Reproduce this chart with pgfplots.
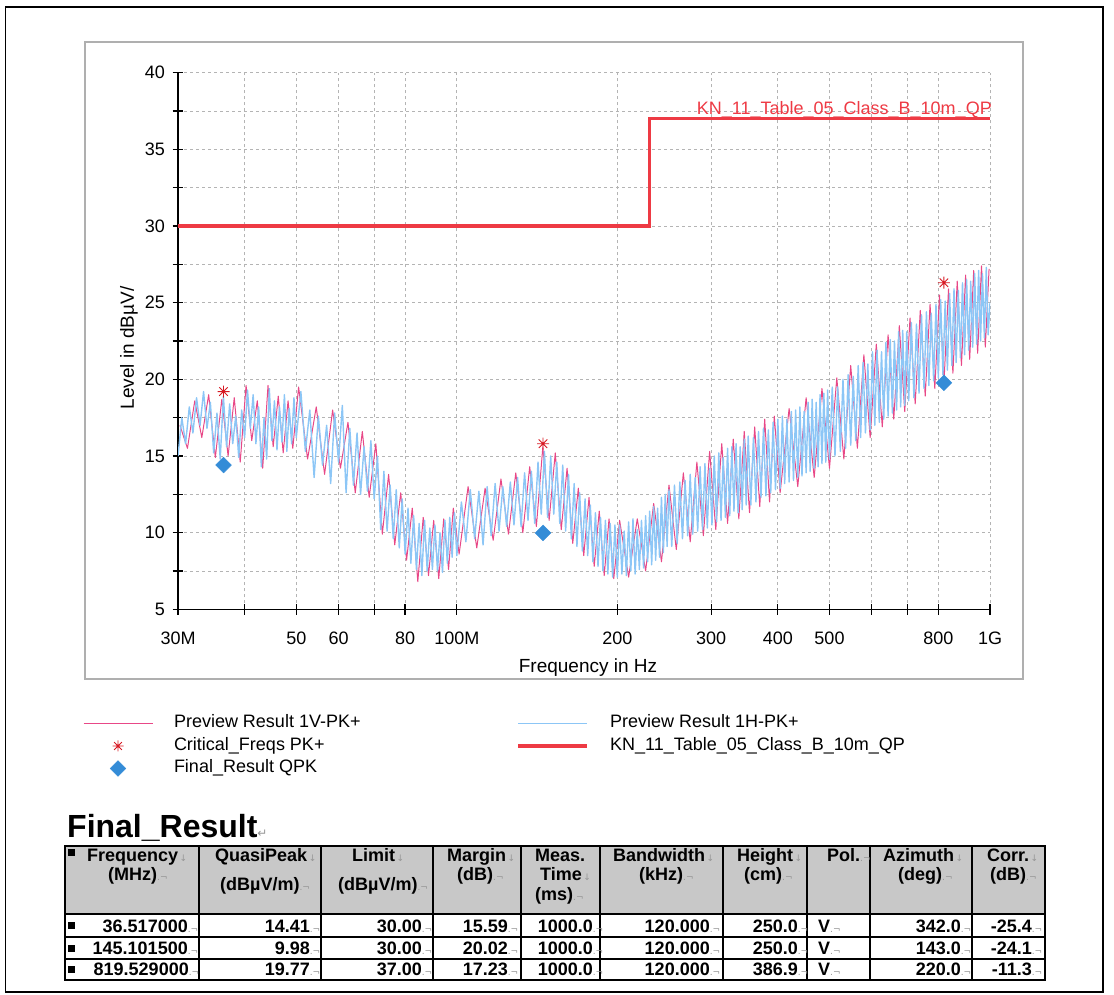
\documentclass[border=0pt]{standalone}
\usepackage{fontspec}
\setmainfont{Liberation Sans}
\newfontfamily\dejavu{DejaVu Sans}
\usepackage{pgfplots}
\pgfplotsset{compat=1.18}
\definecolor{pinkc}{RGB}{232,72,135}
\definecolor{bluec}{RGB}{140,198,246}
\definecolor{limitc}{RGB}{238,58,68}
\definecolor{starc}{RGB}{215,25,35}
\definecolor{diamc}{RGB}{52,140,215}
\definecolor{gridc}{RGB}{180,180,180}
\definecolor{framec}{RGB}{175,175,175}
\definecolor{hdrc}{RGB}{200,200,200}
\definecolor{markc}{RGB}{150,150,150}
\pgfdeclareplotmark{ast8}{%
 \pgfpathmoveto{\pgfqpoint{0pt}{\pgfplotmarksize}}\pgfpathlineto{\pgfqpoint{0pt}{-\pgfplotmarksize}}%
 \pgfpathmoveto{\pgfqpoint{\pgfplotmarksize}{0pt}}\pgfpathlineto{\pgfqpoint{-\pgfplotmarksize}{0pt}}%
 \pgfpathmoveto{\pgfqpoint{0.707\pgfplotmarksize}{0.707\pgfplotmarksize}}\pgfpathlineto{\pgfqpoint{-0.707\pgfplotmarksize}{-0.707\pgfplotmarksize}}%
 \pgfpathmoveto{\pgfqpoint{-0.707\pgfplotmarksize}{0.707\pgfplotmarksize}}\pgfpathlineto{\pgfqpoint{0.707\pgfplotmarksize}{-0.707\pgfplotmarksize}}%
 \pgfusepathqstroke}
\newcommand\hf{\bfseries\fontsize{18}{18}\selectfont}
\newcommand\dn{{\dejavu\mdseries\fontsize{9}{9}\selectfont\color{markc}\,↓}}
\newcommand\ce{{\dejavu\mdseries\fontsize{9}{9}\selectfont\color{markc}.¬}}
\newcommand\hd[3]{\node[anchor=base west,inner sep=0pt,font=\hf] at (#1pt,#2pt) {#3};}
\newcommand\vl[3]{\node[anchor=base east,inner sep=0pt,font=\hf] at (#1pt,#2pt) {#3\rlap{\ce}};}
\newcommand\bul[1]{\fill[black] (67.5pt,#1pt-3.5pt) rectangle (74.5pt,#1pt+3.5pt);}
\begin{document}
\begin{tikzpicture}
\path[use as bounding box] (0pt,0pt) rectangle (1114pt,994pt);
\draw[black,line width=1.5pt] (5.5pt,987pt) rectangle (1103pt,2pt);
\draw[framec,line width=1.5pt] (85pt,952pt) rectangle (1023pt,315pt);
\begin{axis}[
  at={(178pt,384.7pt)}, anchor=south west,
  scale only axis, width=812pt, height=536.6pt,
  xmode=log, xmin=30, xmax=1000, ymin=5, ymax=40,
  enlargelimits=false,
  axis x line=bottom, axis y line=left,
  axis line style={-, line width=1.3pt, black},
  xtick={30,50,60,80,100,200,300,400,500,800,1000},
  xticklabels={30M,50,60,80,100M,200,300,400,500,800,1G},
  minor xtick={40,70,600,700},
  ytick={5,10,15,20,25,30,35,40},
  yticklabels={5,10,15,20,25,30,35,40},
  minor ytick={7.5,12.5,17.5,22.5,27.5,32.5,37.5},
  grid=both,
  major grid style={gridc, line width=0.8pt, dash pattern=on 3pt off 3pt},
  minor grid style={gridc, line width=0.8pt, dash pattern=on 3pt off 3pt},
  tick align=center, major tick length=11pt, minor tick length=11pt,
  tick style={black, line width=1.3pt},
  tick label style={font=\fontsize{18}{18}\selectfont},
  xticklabel style={yshift=-13.7pt},
  yticklabel style={xshift=-4pt},
  /pgf/number format/assume math mode=true,
  legend columns=3, transpose legend,
  legend cell align=left,
  legend style={at={(axis description cs:-0.117,-0.1951)}, anchor=north west,
    draw=none, fill=none, inner sep=0pt, outer sep=0pt,
    font=\fontsize{18}{18}\selectfont, row sep=3.5pt,
    nodes={inner sep=0pt, text height=14pt, text depth=5pt},
    /tikz/every odd column/.style={column sep=21pt},
    /tikz/every even column/.style={column sep=156pt}},
  legend image code/.code={\draw[mark repeat=2,mark phase=2,#1] plot coordinates {(0pt,0pt) (34.5pt,0pt) (69pt,0pt)};},
]
\addlegendimage{pinkc, line width=1pt}
\addlegendentry{Preview Result 1V-PK+}
\addlegendimage{only marks, mark=ast8, mark size=5.5pt, starc, line width=0.9pt}
\addlegendentry{Critical\_Freqs PK+}
\addlegendimage{only marks, mark=square*, mark size=5.6pt, mark options={rotate=45, fill=diamc, draw=diamc}}
\addlegendentry{Final\_Result QPK}
\addlegendimage{bluec, line width=1pt}
\addlegendentry{Preview Result 1H-PK+}
\addlegendimage{limitc, line width=3.5pt}
\addlegendentry{KN\_11\_Table\_05\_Class\_B\_10m\_QP}

% Preview Result 1V-PK+ (pink)
\addplot[pinkc, line width=1pt, line join=round, forget plot] coordinates {
(30.25,17.0)(31.25,15.5)(32.25,18.6)(33.25,16.2)(34.25,19.0)(35.25,14.9)(36.25,18.7)(37.25,15.0)(38.25,18.8)(39.25,14.6)
(40.25,19.6)(41.25,16.0)(42.25,18.6)(43.25,14.2)(44.25,19.6)(45.25,15.6)(46.25,18.9)(47.25,15.2)(48.25,18.6)(49.25,15.5)
(50.5,19.5)(52.5,14.8)(54.5,18.2)(56.5,13.8)(58.5,18.0)(60.5,14.2)(62.5,17.2)(64.5,12.6)(66.5,16.6)(68.5,12.3)
(70.5,15.8)(72.5,9.9)(74.5,13.8)(76.5,9.2)(78.5,12.6)(80.5,8.2)(82.5,11.6)(84.5,6.8)(86.5,11.0)(88.5,7.2)
(90.5,10.8)(92.5,7.0)(94.5,10.9)(96.5,7.6)(98.5,11.6)
(101,8.6)(105,13.0)(109,9.0)(113,12.9)(117,9.5)(121,13.5)(125,9.9)(129,13.9)(133,10.0)(137,14.3)
(141,10.4)(145,15.6)(149,10.8)(153,15.2)(157,10.2)(161,14.2)(165,9.3)(169,12.9)(173,8.5)(177,12.3)
(181,7.8)(185,11.4)(189,7.2)(193,10.9)(197,7.0)
(202,10.8)(210,7.1)(218,10.9)(226,7.5)(234,11.9)(242,8.1)(250,13.1)(258,8.9)(266,13.9)(274,9.4)
(282,14.6)(290,9.8)(298,15.3)(306,10.2)(314,15.8)(322,10.6)(330,16.1)(338,10.9)(346,16.6)(354,11.3)
(362,16.9)(370,11.7)(378,17.4)(386,12.0)(394,17.6)
(404,12.6)(420,18.1)(436,13.0)(452,18.8)(468,13.6)(484,19.4)(500,14.2)(516,20.1)(532,14.8)(548,20.9)
(564,15.5)(580,21.6)(596,16.2)(612,22.3)(628,16.9)(644,22.9)(660,17.4)(676,23.5)(692,17.9)(708,24.0)
(724,18.4)(740,24.5)(756,18.9)(772,24.9)(788,19.4)(804,25.5)(820,19.9)(836,25.9)(852,20.4)(868,26.4)
(884,20.9)(900,26.8)(916,21.3)(932,27.1)(948,21.7)(964,27.4)(980,22.1)(996,27.2)
};
% Preview Result 1H-PK+ (blue)
\addplot[bluec, line width=1.4pt, line join=round, forget plot] coordinates {
(30,15.0)(30.5,17.5)(31,15.8)(31.5,18.2)(32,16.5)(32.5,18.8)(33,17.0)(33.5,19.2)(34,16.8)(34.5,18.5)
(35,15.2)(35.5,17.8)(36,14.8)(36.5,18.9)(37,15.6)(37.5,18.4)(38,15.8)(38.5,17.6)(39,14.9)(39.5,18.0)
(40,16.2)(40.5,19.3)(41,16.8)(41.5,19.0)(42,15.8)(42.5,18.2)(43,14.3)(43.5,17.5)(44,14.8)(44.5,19.4)
(45,16.0)(45.5,18.6)(46,15.4)(46.5,18.2)(47,15.9)(47.5,19.0)(48,15.3)(48.5,18.1)(49,15.8)(49.5,18.8)
(50,16.2)(51,19.2)(52,15.3)(53,18.0)(54,13.6)(55,17.6)(56,14.4)(57,17.0)(58,13.2)(59,17.8)
(60,14.6)(61,18.3)(62,12.6)(63,16.8)(64,13.1)(65,16.5)(66,12.5)(67,15.6)(68,12.7)(69,16.0)
(70,12.2)(71,15.0)(72,10.2)(73,14.0)(74,10.1)(75,13.1)(76,9.6)(77,12.8)(78,9.0)(79,12.2)
(80,8.6)(81,11.6)(82,8.0)(83,11.1)(84,7.6)(85,10.6)(86,7.2)(87,10.8)(88,7.5)(89,10.3)
(90,7.6)(91,10.5)(92,7.5)(93,10.0)(94,7.4)(95,10.8)(96,8.0)(97,11.0)(98,8.4)(99,11.3)
(100,8.5)(102,12.0)(104,9.4)(106,12.8)(108,9.6)(110,12.7)(112,9.2)(114,13.0)(116,9.8)(118,13.2)
(120,10.1)(122,13.0)(124,10.4)(126,13.3)(128,10.5)(130,13.6)(132,10.4)(134,13.9)(136,10.8)(138,14.0)
(140,10.6)(142,14.6)(144,11.2)(146,15.3)(148,11.0)(150,15.0)(152,11.2)(154,14.6)(156,10.6)(158,14.4)
(160,10.1)(162,13.8)(164,9.6)(166,13.2)(168,9.1)(170,12.6)(172,8.8)(174,12.2)(176,8.5)(178,11.8)
(180,8.1)(182,11.3)(184,7.8)(186,11.0)(188,7.5)(190,10.8)(192,7.3)(194,10.6)(196,7.1)(198,10.5)
(200,7.1)(202,10.5)(204,7.3)(206,10.1)(208,7.2)(210,10.7)(212,7.5)(214,10.9)(216,7.3)(218,10.2)
(220,7.6)(222,10.8)(224,7.7)(226,11.1)(228,8.1)(230,11.4)(232,7.9)(234,11.7)(236,8.2)(238,11.6)
(240,8.4)(242,12.3)(244,8.7)(246,12.5)(248,9.1)
(250,12.8)(253,9.1)(256,13.1)(259,9.3)(262,13.3)(265,9.6)(268,13.4)(271,9.8)(274,13.8)(277,9.9)
(280,13.6)(283,10.1)(286,14.3)(289,10.2)(292,14.5)(295,10.3)(298,14.2)(301,10.5)(304,15.0)(307,10.7)
(310,15.2)(313,10.8)(316,14.9)(319,11.0)(322,15.5)(325,11.1)(328,15.6)(331,11.4)(334,15.8)(337,11.3)
(340,15.6)(343,11.5)(346,16.1)(349,11.8)
(352,16.3)(356,11.8)(360,16.2)(364,12.0)(368,16.6)(372,12.3)(376,16.8)(380,12.4)(384,16.7)(388,12.6)
(392,17.2)(396,12.8)(400,17.4)(404,12.9)(408,17.6)(412,13.2)(416,17.4)(420,13.3)(424,17.9)(428,13.4)
(432,18.0)(436,13.6)(440,18.2)(444,13.7)(448,17.9)(452,13.9)(456,18.5)(460,14.0)(464,18.7)(468,14.2)
(472,18.5)(476,14.3)(480,19.0)(484,14.5)(488,19.1)(492,14.6)(496,19.3)(500,14.8)
(506,19.5)(512,15.0)(518,19.5)(524,15.3)(530,20.0)(536,15.5)(542,20.3)(548,15.7)(554,20.2)(560,16.0)
(566,20.9)(572,16.2)(578,21.1)(584,16.5)(590,21.0)(596,16.7)(602,21.8)(608,17.0)(614,21.9)(620,17.2)
(626,21.8)(632,17.4)(638,22.4)(644,17.6)(650,22.6)(656,17.8)(662,22.5)(668,18.0)(674,23.1)(680,18.2)
(686,23.2)(692,18.3)(698,23.1)
(704,18.6)(712,23.7)(720,18.8)(728,23.6)(736,19.1)(744,24.2)(752,19.4)(760,24.4)(768,19.6)(776,24.3)
(784,19.9)(792,24.9)(800,20.1)(808,25.2)(816,20.3)(824,25.1)(832,20.6)(840,25.6)(848,20.9)(856,25.9)
(864,21.1)(872,25.8)(880,21.4)(888,26.3)(896,21.6)(904,26.5)(912,21.9)(920,26.4)(928,22.1)(936,26.9)
(944,22.3)(952,27.1)(960,22.5)(968,26.9)(976,22.7)(984,27.3)(992,22.9)(1000,25.0)
};
% Limit
\addplot[limitc, line width=3.5pt, forget plot] coordinates {(30,30) (230,30) (230,37) (1000,37)};
% Critical freqs
\addplot[only marks, mark=ast8, mark size=6pt, starc, line width=0.9pt, forget plot] coordinates {(36.517,19.2) (145.1015,15.8) (819.529,26.3)};
% Final result
\addplot[only marks, mark=square*, mark size=5.6pt, mark options={rotate=45, fill=diamc, draw=diamc}, forget plot] coordinates {(36.517,14.41) (145.1015,9.98) (819.529,19.77)};
\node[anchor=base east, text=limitc, font=\fontsize{18}{18}\selectfont, inner sep=0pt, yshift=4.5pt, xshift=2pt] at (axis cs:1000,37) {KN\_11\_Table\_05\_Class\_B\_10m\_QP};
\end{axis}
\node[rotate=90, font=\fontsize{19}{19}\selectfont, inner sep=0pt] at (129pt,646pt) {Level in dBµV/};
\node[anchor=base, font=\fontsize{19}{19}\selectfont, inner sep=0pt] at (588pt,321pt) {Frequency in Hz};
% Final result table
\node[anchor=base west, inner sep=0pt, font=\bfseries\fontsize{32}{32}\selectfont] at (67pt,157pt) {Final\_Result{\dejavu\mdseries\fontsize{12}{12}\selectfont\color{markc}↵}};
\fill[hdrc] (65pt,148pt) rectangle (1045pt,80pt);
\foreach \yy in {148,80,57,35,14} {\draw[black,line width=1.6pt] (65pt,\yy pt) -- (1045pt,\yy pt);}
\foreach \xx in {65,199,321,433,521,600,723,807,870,972,1045} {\draw[black,line width=1.6pt] (\xx pt,148pt) -- (\xx pt,14pt);}
\draw[black,line width=2pt] (65pt,148pt) rectangle (1045pt,14pt);
\bul{142}\bul{68.5}\bul{46}\bul{24.5}
\hd{87}{133}{Frequency\dn}
\hd{108}{114}{(MHz)\ce}
\hd{215}{133}{QuasiPeak\dn}
\hd{220}{104}{(dBµV/m)\ce}
\hd{352}{133}{Limit\dn}
\hd{338}{104}{(dBµV/m)\ce}
\hd{447}{133}{Margin\dn}
\hd{457}{114}{(dB)\ce}
\hd{535}{133}{Meas.}
\hd{540}{114}{Time\dn}
\hd{535}{94}{(ms)\ce}
\hd{613}{133}{Bandwidth\dn}
\hd{639}{114}{(kHz)\ce}
\hd{737}{133}{Height\dn}
\hd{744}{114}{(cm)\ce}
\hd{827}{133}{Pol.\ce}
\hd{883}{133}{Azimuth\dn}
\hd{898}{114}{(deg)\ce}
\hd{987}{133}{Corr.\dn}
\hd{990}{114}{(dB)\ce}
% rows
\vl{188}{62}{36.517000}\vl{310}{62}{14.41}\vl{422}{62}{30.00}\vl{508}{62}{15.59}\vl{593}{62}{1000.0}
\vl{710}{62}{120.000}\vl{798}{62}{250.0}\hd{818}{62}{V\ce}\vl{961}{62}{342.0}\vl{1032}{62}{-25.4}
\vl{188}{40}{145.101500}\vl{310}{40}{9.98}\vl{422}{40}{30.00}\vl{508}{40}{20.02}\vl{593}{40}{1000.0}
\vl{710}{40}{120.000}\vl{798}{40}{250.0}\hd{818}{40}{V\ce}\vl{961}{40}{143.0}\vl{1032}{40}{-24.1}
\vl{189}{18.5}{819.529000}\vl{310}{18.5}{19.77}\vl{422}{18.5}{37.00}\vl{508}{18.5}{17.23}\vl{593}{18.5}{1000.0}
\vl{710}{18.5}{120.000}\vl{798}{18.5}{386.9}\hd{818}{18.5}{V\ce}\vl{961}{18.5}{220.0}\vl{1032}{18.5}{-11.3}
\end{tikzpicture}
\end{document}
